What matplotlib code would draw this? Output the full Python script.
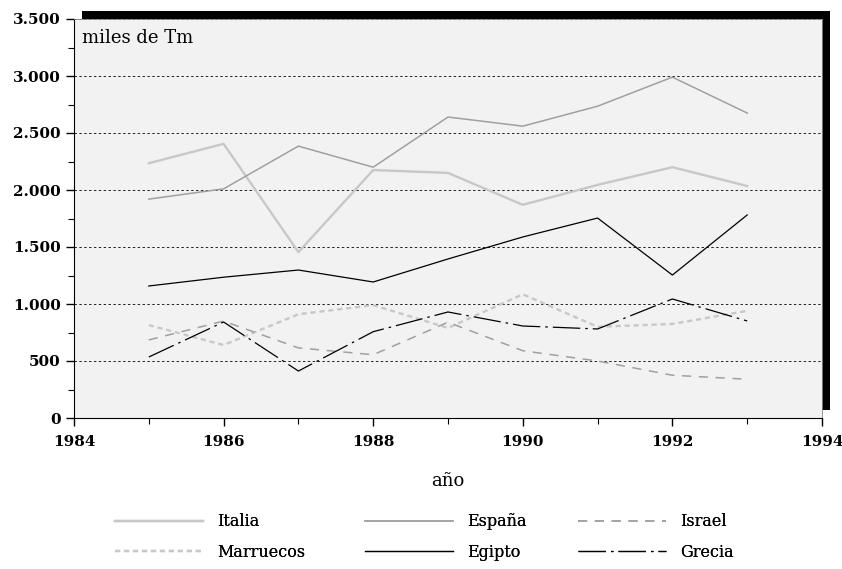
"""
Production by country, thousands of Tm, 1985-1993.
"""

import matplotlib.pyplot as plt
from matplotlib.patches import Rectangle
from matplotlib.ticker import FuncFormatter, MultipleLocator


# =========================================================
# Data
# =========================================================

YEARS = [1985, 1986, 1987, 1988, 1989, 1990, 1991, 1992, 1993]

ITALIA = [2235, 2405, 1455, 2175, 2150, 1870, 2045, 2200, 2035]
ESPANA = [1920, 2010, 2385, 2200, 2640, 2560, 2735, 2990, 2675]
ISRAEL = [685, 850, 615, 555, 840, 590, 500, 375, 340]
MARRUECOS = [815, 640, 910, 990, 790, 1085, 800, 825, 940]
EGIPTO = [1158, 1235, 1298, 1193, 1395, 1588, 1754, 1254, 1781]
GRECIA = [535, 842, 412, 757, 930, 807, 781, 1044, 851]

OUTPUT_FILE = "out.png"

W, H = 842, 569


# =========================================================
# Plot
# =========================================================

def thousands(value, pos):
    return f"{int(value):,}".replace(",", ".")


def main():

    plt.rcParams["font.family"] = ["DejaVu Serif"]

    fig = plt.figure(figsize=(W / 100, H / 100), dpi=100)

    left, bottom = 74 / W, 151 / H
    width, height = 748 / W, 399 / H

    # drop shadow behind the plot area
    shadow = Rectangle(
        (left + 8 / W, bottom + 8 / H), width, height,
        transform=fig.transFigure, facecolor="black",
        edgecolor="none", zorder=-5
    )
    fig.patches.append(shadow)

    ax = fig.add_axes([left, bottom, width, height])
    ax.set_facecolor("#f2f2f2")

    lines = {}
    lines["Italia"], = ax.plot(YEARS, ITALIA, color="#c8c8c8",
                               linewidth=1.7)
    lines["Marruecos"], = ax.plot(YEARS, MARRUECOS, color="#c8c8c8",
                                  linewidth=1.7, linestyle=(0, (2.2, 1.6)))
    lines["España"], = ax.plot(YEARS, ESPANA, color="#a0a0a0",
                               linewidth=1.1)
    lines["Egipto"], = ax.plot(YEARS, EGIPTO, color="black",
                               linewidth=0.9)
    lines["Israel"], = ax.plot(YEARS, ISRAEL, color="#a0a0a0",
                               linewidth=1.1, linestyle=(0, (6, 5)))
    lines["Grecia"], = ax.plot(YEARS, GRECIA, color="black",
                               linewidth=0.9,
                               linestyle=(0, (22, 4, 2, 4)))

    ax.set_xlim(1984, 1994)
    ax.set_ylim(0, 3500)

    ax.xaxis.set_major_locator(MultipleLocator(2))
    ax.xaxis.set_minor_locator(MultipleLocator(1))
    ax.yaxis.set_major_locator(MultipleLocator(500))
    ax.yaxis.set_minor_locator(MultipleLocator(250))
    ax.yaxis.set_major_formatter(FuncFormatter(thousands))

    ax.tick_params(axis="both", which="major", length=6, width=1,
                   labelsize=11)
    ax.tick_params(axis="both", which="minor", length=4, width=0.8)
    ax.tick_params(axis="x", pad=6)

    for label in ax.get_xticklabels() + ax.get_yticklabels():
        label.set_fontweight("bold")

    ax.grid(True, axis="y", which="major", color="#222222",
            linestyle=(0, (2.5, 2.5)), linewidth=0.7)

    ax.spines["left"].set_color("black")
    ax.spines["bottom"].set_color("black")
    ax.spines["top"].set_color("#888888")
    ax.spines["right"].set_color("#888888")
    ax.spines["top"].set_linewidth(0.6)
    ax.spines["right"].set_linewidth(0.6)

    ax.text(0.011, 0.975, "miles de Tm", transform=ax.transAxes,
            fontsize=13, va="top", ha="left")

    ax.set_xlabel("año", fontsize=13, labelpad=17)

    # legend: three columns placed at fixed x positions
    columns = [
        (115, ["Italia", "Marruecos"]),
        (365, ["España", "Egipto"]),
        (578, ["Israel", "Grecia"]),
    ]

    for x_px, names in columns:
        leg = fig.legend(
            [lines[n] for n in names], names,
            loc="center left",
            bbox_to_anchor=(x_px / W, (H - 537) / H),
            bbox_transform=fig.transFigure,
            frameon=False, fontsize=11.5, handlelength=5.5,
            handletextpad=0.9, borderpad=0, borderaxespad=0,
            labelspacing=0.85
        )
        fig.add_artist(leg)

    fig.savefig(OUTPUT_FILE, dpi=100)
    plt.close(fig)


if __name__ == "__main__":
    main()
